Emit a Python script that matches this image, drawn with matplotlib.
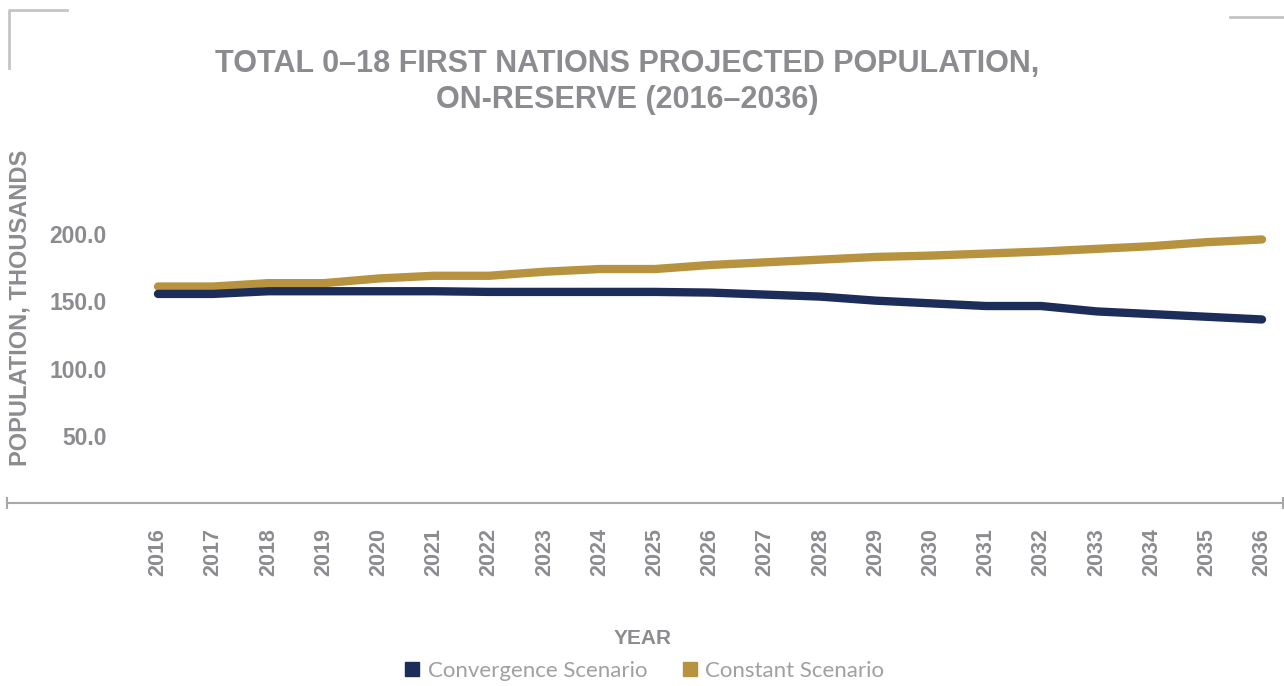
import matplotlib.pyplot as plt
from matplotlib.lines import Line2D

# projected 0-18 population on-reserve, thousands
years = list(range(2016, 2037))
convergence = [155.5, 155.5, 157.5, 157.5, 157.5, 157.5, 157, 157, 157, 157, 156.5,
               155, 153.5, 150.5, 148.5, 146.5, 146.5, 142.5, 140.5, 138.5, 136.5]
constant = [161, 161, 163.5, 163.5, 167, 169, 169, 172, 174, 174, 177,
            179, 181, 183, 184, 185.5, 187, 189, 191, 194, 196]
yticks = [50, 100, 150, 200]

navy = '#1c2d5a'
gold = '#b8933f'
grey = '#8c8c90'

fig = plt.figure(figsize=(12.84, 6.86), dpi=100)
ax = fig.add_axes([7 / 1284, 1 - 503 / 686, 1276 / 1284, 0.49])

ax.plot(years, constant, color=gold, lw=6, solid_capstyle='round', solid_joinstyle='round')
ax.plot(years, convergence, color=navy, lw=6, solid_capstyle='round', solid_joinstyle='round')

ax.set_xlim(2016 - 151 / 55.2, 2036 + 21 / 55.2)
ax.set_ylim(0, 250)
for s in ['top', 'right', 'left']:
    ax.spines[s].set_visible(False)
ax.spines['bottom'].set_color('#a8a8a8')
ax.spines['bottom'].set_linewidth(1.5)
# little end caps on the axis line
ax.plot([0, 1], [0, 0], transform=ax.transAxes, ls='none', marker='|',
        ms=9, mew=1.5, color='#a8a8a8', clip_on=False)

ax.set_xticks(years)
ax.set_xticklabels([str(y) for y in years], rotation=90, fontsize=15.5,
                   fontweight='bold', color=grey, family='Liberation Sans')
ax.tick_params(axis='x', length=0, pad=18)

ax.set_yticks(yticks)
ax.set_yticklabels([f'{v:.1f}' for v in yticks], fontsize=16.5, fontweight='bold',
                   color=grey, family='Liberation Sans')
ax.tick_params(axis='y', length=0, pad=-72)
for lab in ax.get_yticklabels():
    lab.set_horizontalalignment('right')

fig.text(20 / 1284, 1 - 308 / 686, 'POPULATION, THOUSANDS', rotation=90, ha='center',
         va='center', fontsize=17, fontweight='bold', color=grey, family='Liberation Sans')

fig.text(627 / 1284, 1 - 82 / 686, 'TOTAL 0\u201318 FIRST NATIONS PROJECTED POPULATION,\nON-RESERVE (2016\u20132036)',
         ha='center', va='center', fontsize=22, fontweight='bold', color=grey,
         family='Liberation Sans', linespacing=1.25)

fig.text(643 / 1284, 1 - 639 / 686, 'YEAR', ha='center', va='center', fontsize=15,
         fontweight='bold', color=grey, family='Liberation Sans')

handles = [Line2D([], [], ls='none', marker='s', ms=10, color=navy),
           Line2D([], [], ls='none', marker='s', ms=10, color=gold)]
leg = fig.legend(handles, ['Convergence Scenario', 'Constant Scenario'], loc='center',
                 bbox_to_anchor=(645 / 1284, 1 - 671 / 686), ncol=2, frameon=False,
                 handlelength=0.6, handletextpad=0.4, columnspacing=1.6,
                 prop={'family': 'Lato', 'size': 16})
for t in leg.get_texts():
    t.set_color('#a0a0a4')

# corner brackets
fig.add_artist(Line2D([9 / 1284, 9 / 1284, 67 / 1284], [1 - 68 / 686, 1 - 10 / 686, 1 - 10 / 686],
                      color='#c4c4c4', lw=2))
fig.add_artist(Line2D([1230 / 1284, 1284 / 1284], [1 - 17 / 686, 1 - 17 / 686],
                      color='#c4c4c4', lw=2))

fig.savefig('out.png', dpi=100, facecolor='white')
